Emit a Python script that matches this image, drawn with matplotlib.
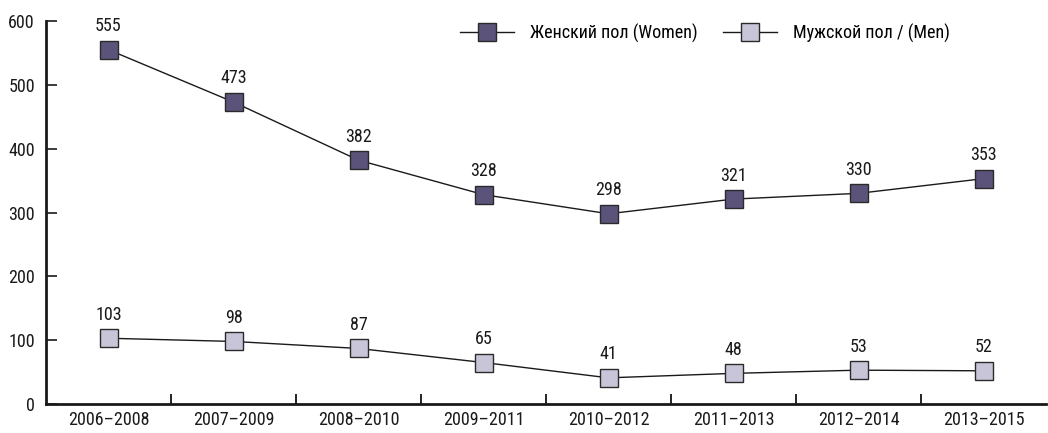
import matplotlib
matplotlib.use("Agg")
import matplotlib.pyplot as plt
from matplotlib.ticker import FixedLocator, NullFormatter

plt.rcParams['font.family'] = ['Roboto Condensed', 'Liberation Sans Narrow', 'Roboto', 'DejaVu Sans']

categories = ["2006–2008", "2007–2009", "2008–2010", "2009–2011",
              "2010–2012", "2011–2013", "2012–2014", "2013–2015"]
women = [555, 473, 382, 328, 298, 321, 330, 353]
men = [103, 98, 87, 65, 41, 48, 53, 52]
yticks = [0, 100, 200, 300, 400, 500, 600]

fig = plt.figure(figsize=(10.48, 4.33), dpi=100)
ax = fig.add_axes([46/1048, 29/433, 1000/1048, 383/433])

x = list(range(len(categories)))
ax.plot(x, women, color='#1a1a1a', lw=1, marker='s', ms=12.5,
        mfc='#5b5379', mec='#2a2a2a', mew=1, label='Женский пол (Women)')
ax.plot(x, men, color='#1a1a1a', lw=1, marker='s', ms=12.5,
        mfc='#c9c5d9', mec='#2a2a2a', mew=1, label='Мужской пол / (Men)')

fs = 13
for xi, v in zip(x, women):
    ax.annotate(str(v), (xi, v), xytext=(0, 10.5), textcoords='offset points',
                ha='center', va='bottom', fontsize=fs, color='#1a1a1a')
for xi, v in zip(x, men):
    ax.annotate(str(v), (xi, v), xytext=(0, 10.5), textcoords='offset points',
                ha='center', va='bottom', fontsize=fs, color='#1a1a1a')

ax.set_xlim(-0.5, 7.5)
ax.set_ylim(0, 600)
ax.set_yticks(yticks)
ax.tick_params(axis='y', direction='in', length=8, width=1.2, labelsize=fs,
               pad=8, colors='#1a1a1a')
ax.xaxis.set_major_locator(FixedLocator([i + 0.5 for i in range(7)]))
ax.xaxis.set_major_formatter(NullFormatter())
ax.xaxis.set_minor_locator(FixedLocator(x))
ax.set_xticklabels(categories, minor=True)
ax.tick_params(axis='x', which='major', direction='in', length=7, width=1.2)
ax.tick_params(axis='x', which='minor', length=0, labelsize=fs, pad=5,
               colors='#1a1a1a')
for s in ['top', 'right']:
    ax.spines[s].set_visible(False)
for s in ['left', 'bottom']:
    ax.spines[s].set_linewidth(2)
    ax.spines[s].set_color('#1a1a1a')

leg = ax.legend(loc='center', bbox_to_anchor=(0.659, 1 - 12/383), ncol=2,
                frameon=False, fontsize=fs, handlelength=3.0,
                columnspacing=1.4, handletextpad=0.9)

fig.savefig('out.png', dpi=100)
